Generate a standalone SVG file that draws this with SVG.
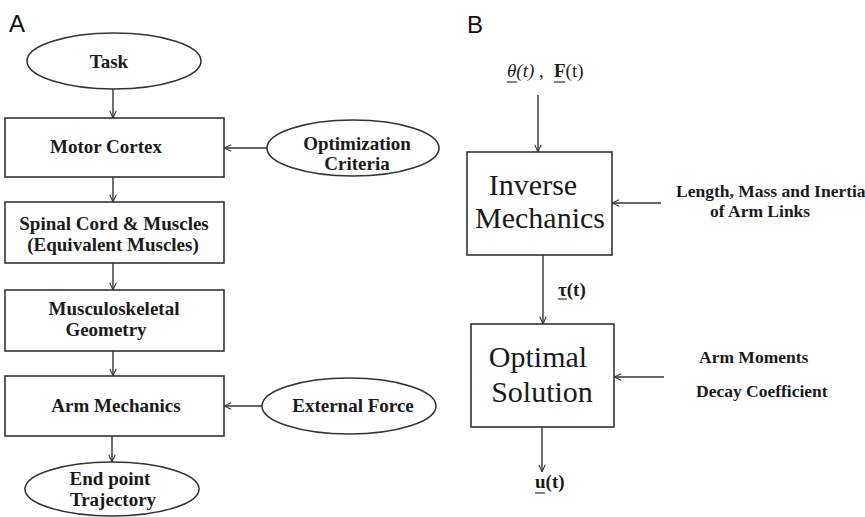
<svg xmlns="http://www.w3.org/2000/svg" width="865" height="517" viewBox="0 0 865 517">
<style>
.bg{fill:#fff}
.box{fill:#fff;stroke:#333;stroke-width:1.6}
.con line{stroke:#333;stroke-width:1.4;marker-end:url(#ah)}
.t{font-family:"Liberation Serif","Times New Roman",serif;font-weight:bold;font-size:19px;fill:#1a1a1a;text-anchor:middle}
.big{font-family:"Liberation Serif","Times New Roman",serif;font-size:30px;fill:#1a1a1a;text-anchor:middle}
.lab{font-family:"Liberation Serif","Times New Roman",serif;font-weight:bold;font-size:17.5px;fill:#1a1a1a}
.sym{font-family:"Liberation Serif","Times New Roman",serif;font-size:19px;fill:#1a1a1a}
.ul{stroke:#333;stroke-width:1.2}
.pl{font-family:"Liberation Sans",Arial,sans-serif;font-size:24px;fill:#111}
</style>
<defs>
<marker id="ah" viewBox="0 0 10 10" refX="10" refY="5" markerWidth="8" markerHeight="8" markerUnits="userSpaceOnUse" orient="auto">
<path d="M1,1 L10,5 L1,9" fill="none" stroke="#333" stroke-width="1.3"/>
</marker>
</defs>
<rect class="bg" x="0" y="0" width="865" height="517"/>

<text class="pl" x="9" y="32">A</text>
<text class="pl" x="467" y="33">B</text>

<g class="con">
<line x1="113" y1="89" x2="113" y2="118"/>
<line x1="267" y1="148" x2="224" y2="148"/>
<line x1="113" y1="177" x2="113" y2="202"/>
<line x1="113" y1="263" x2="113" y2="290"/>
<line x1="113" y1="351" x2="113" y2="376"/>
<line x1="262" y1="406" x2="224" y2="406"/>
<line x1="112" y1="436" x2="112" y2="462"/>
<line x1="538" y1="95" x2="538" y2="152"/>
<line x1="661" y1="203" x2="612" y2="203"/>
<line x1="543" y1="255" x2="543" y2="324"/>
<line x1="664" y1="377" x2="614" y2="377"/>
<line x1="542" y1="427" x2="542" y2="472"/>
</g>

<g id="task">
<ellipse class="box" cx="114" cy="61" rx="87" ry="28"/>
<text class="t" x="109" y="68">Task</text>
</g>
<g id="motor-cortex">
<rect class="box" x="5" y="118" width="219" height="59"/>
<text class="t" x="106" y="153">Motor Cortex</text>
</g>
<g id="optimization-criteria">
<ellipse class="box" cx="353" cy="148" rx="86" ry="28"/>
<text class="t" x="357" y="150">Optimization</text>
<text class="t" x="357" y="170">Criteria</text>
</g>
<g id="spinal-cord">
<rect class="box" x="5" y="202" width="219" height="61"/>
<text class="t" x="114" y="230">Spinal Cord &amp; Muscles</text>
<text class="t" x="113" y="251">(Equivalent Muscles)</text>
</g>
<g id="musculoskeletal">
<rect class="box" x="5" y="290" width="219" height="61"/>
<text class="t" x="114" y="315">Musculoskeletal</text>
<text class="t" x="106" y="336">Geometry</text>
</g>
<g id="arm-mechanics">
<rect class="box" x="5" y="376" width="219" height="60"/>
<text class="t" x="116" y="412">Arm Mechanics</text>
</g>
<g id="external-force">
<ellipse class="box" cx="349" cy="406" rx="87" ry="28"/>
<text class="t" x="353" y="412">External Force</text>
</g>
<g id="end-point">
<ellipse class="box" cx="112" cy="489" rx="87" ry="27"/>
<text class="t" x="110" y="485">End point</text>
<text class="t" x="113" y="506">Trajectory</text>
</g>

<g id="input-label">
<text class="sym" x="507" y="77"><tspan font-style="italic">θ(t)</tspan><tspan x="539">,</tspan><tspan x="554" font-weight="bold">F</tspan><tspan>(t)</tspan></text>
<line class="ul" x1="507" y1="82" x2="517" y2="82"/>
<line class="ul" x1="554" y1="82" x2="565" y2="82"/>
</g>
<g id="inverse-mechanics">
<rect class="box" x="467" y="152" width="145" height="103"/>
<text class="big" x="533" y="195">Inverse</text>
<text class="big" x="540" y="228">Mechanics</text>
</g>
<g id="arm-links">
<text class="lab" x="676" y="197">Length, Mass and Inertia</text>
<text class="lab" x="710" y="217">of Arm Links</text>
</g>
<g id="torque-label">
<text class="sym" x="558" y="296" font-weight="bold">τ(t)</text>
<line class="ul" x1="558" y1="299" x2="567" y2="299"/>
</g>
<g id="optimal-solution">
<rect class="box" x="471" y="324" width="143" height="103"/>
<text class="big" x="538" y="367">Optimal</text>
<text class="big" x="542" y="402">Solution</text>
</g>
<g id="moments">
<text class="lab" x="699" y="363">Arm Moments</text>
<text class="lab" x="696" y="397">Decay Coefficient</text>
</g>
<g id="output-label">
<text class="sym" x="535" y="488" font-weight="bold">u(t)</text>
<line class="ul" x1="535" y1="493" x2="545" y2="493"/>
</g>
</svg>
